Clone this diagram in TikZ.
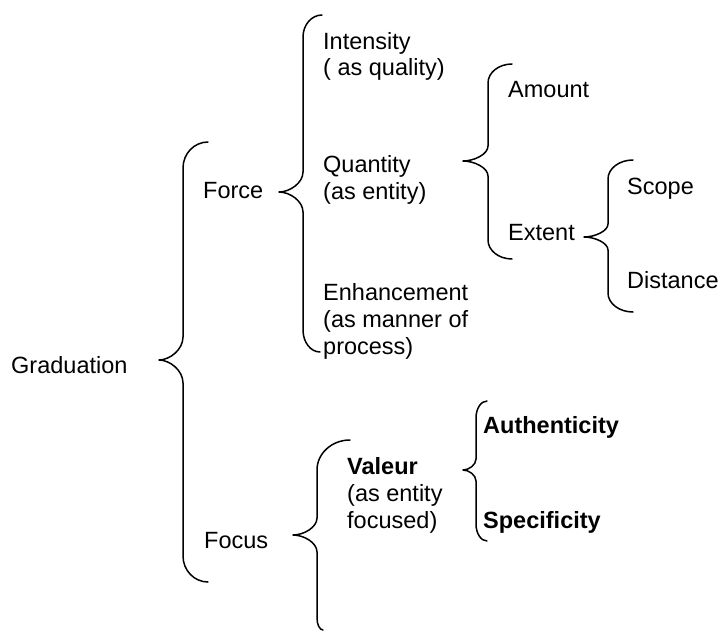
\documentclass[tikz,border=0pt]{standalone}
\usepackage{fontspec}
\setmainfont{Liberation Sans}
\newcommand\lstack[1]{\vtop{\baselineskip=27pt\halign{##\hfil\cr#1\cr}}}
% #1 top arm end x, #2 bottom arm end x, #3 spine x, #4 tip x,
% #5 top y, #6 tip y, #7 bottom y, #8 arm radius, #9 tip radius
\newcommand\drawbrace[9]{%
  \pgfmathsetmacro\rb{min(#8,2*(#2-#3))}%
  \draw[bracestyle] (#1,#5) .. controls ({#3+0.448*(#1-#3)},#5) and (#3,{#5+0.448*#8}) .. (#3,{#5+#8})
    -- (#3,{#6-#9}) .. controls (#3,{#6-0.448*#9}) and ({#4+0.448*(#3-#4)},#6) .. (#4,#6)
    .. controls ({#4+0.448*(#3-#4)},#6) and (#3,{#6+0.448*#9}) .. (#3,{#6+#9})
    -- (#3,{#7-\rb}) .. controls (#3,{#7-0.448*\rb}) and ({#3+0.448*(#2-#3)},#7) .. (#2,#7);}
\tikzset{
  txt/.style={anchor=base west, inner sep=0pt, font=\fontsize{23.5}{27}\selectfont},
  bracestyle/.style={draw=black, line width=1.5pt, line cap=round, line join=round}
}
\begin{document}
\begin{tikzpicture}[x=1pt, y=-1pt]
\useasboundingbox[fill=white] (0,0) rectangle (720,634);
% texts
\node[txt] (grad) at (11,373) {Graduation};
\node[txt] (force) at (203,198) {Force};
\node[txt] (focus) at (204,548) {Focus};
\node[txt] (intens) at (323,49) {\lstack{Intensity\cr( as quality)}};
\node[txt] (quant) at (323,172) {\lstack{Quantity\cr(as entity)}};
\node[txt] (enh) at (323,300) {\lstack{Enhancement\cr(as manner of\cr process)}};
\node[txt] (amount) at (508,97) {Amount};
\node[txt] (extent) at (508,240) {Extent};
\node[txt] (scope) at (627,194) {Scope};
\node[txt] (dist) at (627,288) {Distance};
\node[txt] (valeur) at (347,474) {\lstack{\textbf{Valeur}\cr(as entity\cr focused)}};
\node[txt] (auth) at (483,433) {\textbf{Authenticity}};
\node[txt] (spec) at (483,528) {\textbf{Specificity}};
% braces
\drawbrace{208}{208}{183}{159}{142}{360}{582}{26}{23}
\drawbrace{322}{320}{303}{279}{15}{192}{352}{22}{20}
\drawbrace{512}{512}{488}{463}{64}{161}{259}{19}{15}
\drawbrace{633}{633}{608}{584}{160}{237}{312}{19}{13}
\drawbrace{350}{323}{317}{293}{440}{535}{630}{30}{17}
\drawbrace{487}{487}{476}{463}{401}{470}{541}{17}{11}
\end{tikzpicture}
\end{document}
